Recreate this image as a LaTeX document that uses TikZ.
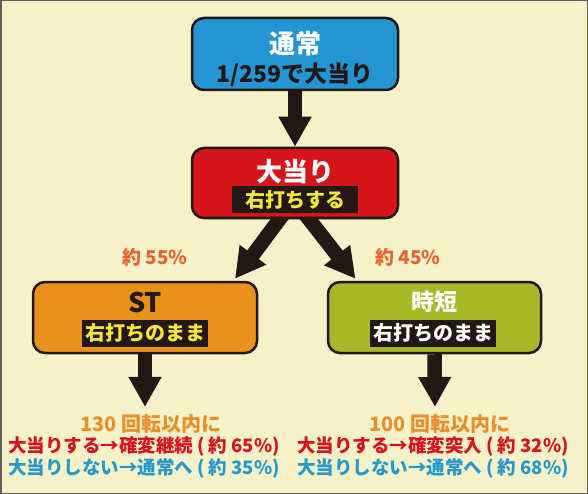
\documentclass[tikz,border=0pt]{standalone}
\usepackage{fontspec}
\setmainfont{Noto Sans CJK JP}
\usetikzlibrary{arrows.meta}
\definecolor{paper}{HTML}{F5F1C9}
\definecolor{ink}{HTML}{231815}
\definecolor{tsujoblue}{HTML}{2395D3}
\definecolor{atarired}{HTML}{D5141B}
\definecolor{storange}{HTML}{E8921B}
\definecolor{jitangreen}{HTML}{A8B828}
\definecolor{tagyellow}{HTML}{F3E834}
\definecolor{rateorange}{HTML}{E8632B}
\definecolor{spinorange}{HTML}{E88F2A}
\definecolor{winred}{HTML}{D7121D}
\definecolor{loseblue}{HTML}{2698CC}
\pgfdeclarelayer{bg}
\pgfsetlayers{bg,main}

\begin{document}
\begin{tikzpicture}[x=1pt,y=-1pt,
    box/.style={draw=ink,line width=2.5pt,rounded corners=12pt,minimum height=71pt},
    tag/.style={fill=ink,inner sep=0pt,minimum width=126pt,minimum height=27pt,font=\fontsize{20}{20}\selectfont\bfseries},
    title/.style={font=\fontsize{26}{26}\selectfont\bfseries},
    bigarrow/.style={line width=14.5pt,ink,-{Triangle[length=30pt,width=31pt]}},
    note/.style={font=\fontsize{18.5}{18.5}\selectfont\bfseries}]
  \useasboundingbox (0,0) rectangle (588,494);
  \begin{pgfonlayer}{bg}
    \fill[paper] (0,0) rectangle (588,494);
  \end{pgfonlayer}

  \node[box,fill=tsujoblue,minimum width=206pt,minimum height=72pt] (tsujo) at (295,54) {};
  \node[title,white] (tsujotitle) at (295,44) {通常};
  \node[font=\fontsize{23}{23}\selectfont\bfseries,ink] (tsujorate) at (295,75) {1/259で大当り};

  \node[box,fill=atarired,minimum width=206pt,minimum height=70pt] (atari) at (295,183) {};
  \node[title,white] (atarititle) at (295,172) {大当り};
  \node[tag,text=tagyellow] (ataritag) at (295,200) {右打ちする};

  \node[box,fill=storange,minimum width=224pt] (st) at (145,317.5) {};
  \node[title,ink,font=\fontsize{27}{27}\selectfont\bfseries] (sttitle) at (145,302) {ST};
  \node[tag,text=tagyellow] (sttag) at (145,333) {右打ちのまま};

  \node[box,fill=jitangreen,minimum width=213pt] (jitan) at (434.5,317.5) {};
  \node[title,white,font=\fontsize{23}{23}\selectfont\bfseries] (jitantitle) at (434.5,302) {時短};
  \node[tag,text=white] (jitantag) at (433,333) {右打ちのまま};

  \node[note,rateorange,font=\fontsize{19}{19}\selectfont\bfseries] (strate) at (155,257) {約 55\%};
  \node[note,rateorange,font=\fontsize{19}{19}\selectfont\bfseries] (jitanrate) at (408,257) {約 45\%};

  \node[note,spinorange,font=\fontsize{20}{20}\selectfont\bfseries] (stspin) at (151,424) {130 回転以内に};
  \node[note,winred] (stwin) at (144,446) {大当りする→確変継続 ( 約 65\%)};
  \node[note,loseblue] (stlose) at (144,468) {大当りしない→通常へ ( 約 35\%)};

  \node[note,spinorange,font=\fontsize{20}{20}\selectfont\bfseries] (jitanspin) at (440,424) {100 回転以内に};
  \node[note,winred] (jitanwin) at (433,446) {大当りする→確変突入 ( 約 32\%)};
  \node[note,loseblue] (jitanlose) at (433,468) {大当りしない→通常へ ( 約 68\%)};

  \begin{pgfonlayer}{bg}
    \draw[bigarrow] (tsujo.south) -- (atari.north);
    \draw[bigarrow] ([xshift=-2pt,yshift=18pt]atari.south) -- ([xshift=90pt,yshift=2pt]st.north);
    \draw[bigarrow] ([xshift=0pt,yshift=18pt]atari.south) -- ([xshift=-79pt,yshift=2pt]jitan.north);
    \draw[bigarrow] (st.south) -- ([xshift=-6pt,yshift=4pt]stspin.north);
    \draw[bigarrow] (jitan.south) -- ([xshift=-5pt,yshift=4pt]jitanspin.north);
  \end{pgfonlayer}

  \draw[ink!70,line width=1.5pt] (0.75,0.75) rectangle (587.25,493.25);
\end{tikzpicture}
\end{document}
